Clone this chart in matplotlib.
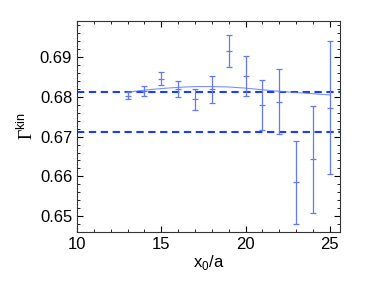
import numpy as np
import matplotlib
matplotlib.use('Agg')
import matplotlib.pyplot as plt
from matplotlib.ticker import MultipleLocator

plt.rcParams['font.family'] = ['Liberation Sans', 'DejaVu Sans']
plt.rcParams['mathtext.fontset'] = 'custom'
plt.rcParams['mathtext.rm'] = 'Liberation Serif'
plt.rcParams['mathtext.sf'] = 'Liberation Sans'

# datos
x0 = [13, 14, 15, 16, 17, 18, 19, 20, 21, 22, 23, 24, 25]
gamma = [0.6803, 0.6815, 0.6846, 0.6819, 0.6794, 0.6819, 0.6915, 0.6853, 0.6779, 0.6788, 0.6585, 0.6643, 0.6773]
err = [0.0009, 0.0013, 0.0017, 0.0020, 0.0026, 0.0034, 0.0041, 0.0051, 0.0063, 0.0081, 0.0105, 0.0134, 0.0168]

# curva de ajuste
x_fit = [13, 14, 15, 16, 17, 18, 19, 20, 21, 22, 23, 24, 25]
y_fit = [0.6812, 0.6817, 0.6821, 0.6824, 0.6826, 0.6826, 0.6825, 0.6822, 0.6818, 0.6814, 0.6811, 0.6808, 0.6805]

# lineas horizontales
niveles = [0.6812, 0.6712]

fig = plt.figure(figsize=(3.76, 2.82), dpi=100)
ax = fig.add_axes([77/376, 1 - 232/282, 263/376, 211/282])

for y in niveles:
    ax.axhline(y, color='#1a3cff', lw=1.5, dashes=(3.5, 2.2))

ax.plot(x_fit, y_fit, color='#5a74ff', lw=0.8, alpha=0.8)
ax.errorbar(x0, gamma, yerr=err, fmt='_', color='#6478ff', ecolor='#6478ff',
            elinewidth=0.9, capsize=2.5, capthick=0.9, markersize=5, mew=0.9)

ax.set_xlim(10, 25.6)
ax.set_ylim(0.646, 0.6991)
ax.xaxis.set_major_locator(MultipleLocator(5))
ax.xaxis.set_minor_locator(MultipleLocator(1))
ax.yaxis.set_major_locator(MultipleLocator(0.01))
ax.yaxis.set_minor_locator(MultipleLocator(0.002))
ax.tick_params(which='both', direction='in', top=True, right=True, labelsize=12)
ax.tick_params(which='major', length=4)
ax.tick_params(which='minor', length=2)
for s in ax.spines.values():
    s.set_linewidth(0.8)
    s.set_color('#333333')

ax.set_xlabel(r'x$_{\mathsf{0}}$/a', fontsize=12, labelpad=1)
ax.set_ylabel(r'$\Gamma^{\mathsf{kin}}$', fontsize=13, labelpad=2)

fig.savefig('out.png', dpi=100)
